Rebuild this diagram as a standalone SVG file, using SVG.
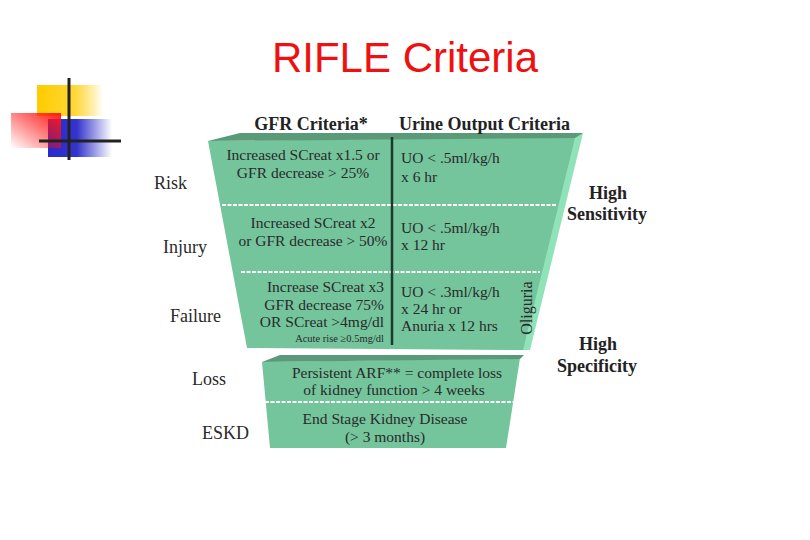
<svg xmlns="http://www.w3.org/2000/svg" width="810" height="540" viewBox="0 0 810 540">
<defs>
<linearGradient id="gy" x1="0" y1="0" x2="1" y2="0"><stop offset="0" stop-color="#ffcc00"/><stop offset="0.55" stop-color="#ffd633"/><stop offset="1" stop-color="#ffcc00" stop-opacity="0"/></linearGradient>
<linearGradient id="gr" x1="1" y1="0" x2="0" y2="1"><stop offset="0" stop-color="#ff1a1a"/><stop offset="1" stop-color="#ff0000" stop-opacity="0"/></linearGradient>
<linearGradient id="gb" x1="0" y1="0" x2="1" y2="0"><stop offset="0" stop-color="#2a2acc"/><stop offset="0.45" stop-color="#3333cc"/><stop offset="1" stop-color="#3333cc" stop-opacity="0"/></linearGradient>
</defs>
<style>
.t{font-family:"Liberation Serif","Times New Roman",serif;fill:#2a2a2a;font-size:15.5px}
.c{text-anchor:middle}
.r{text-anchor:end}
.h{font-family:"Liberation Serif","Times New Roman",serif;fill:#222;font-size:18px;font-weight:bold}
.lab{font-family:"Liberation Serif","Times New Roman",serif;fill:#2a2a2a;font-size:18px}
.dot{stroke:#ffffff;stroke-width:2;stroke-dasharray:4 1.5;fill:none}
.fun{fill:#74c49c}
.top{fill:#5a9a78}
.bev{fill:#90e2b8}
</style>
<text x="405" y="72" text-anchor="middle" font-family="Liberation Sans, Arial, sans-serif" font-size="42" fill="#ee1111">RIFLE Criteria</text>
<g id="logo">
<rect x="37" y="85" width="66" height="31" fill="url(#gy)"/>
<rect x="48" y="119" width="64" height="38" fill="url(#gb)"/>
<rect x="11" y="113" width="50" height="35" fill="url(#gr)"/>
<line x1="69" y1="78" x2="69" y2="160" stroke="#222" stroke-width="3"/>
<line x1="39" y1="141" x2="121" y2="141" stroke="#222" stroke-width="3"/>
</g>
<g id="upper-funnel">
<polygon class="fun" points="208,141 580,137 525,350 247,348"/>
<polygon class="top" points="208,141 240,133 583,133 578,138"/>
<polygon class="bev" points="575,138 583,133 530,350 523,350"/>
</g>
<g id="lower-funnel">
<polygon class="fun" points="262,362 520,358 506,448 270,448"/>
<polygon class="top" points="262,362 280,355 524,355 520,359"/>
</g>
<g id="connectors">
<line class="dot" x1="222" y1="205" x2="556" y2="205"/>
<line class="dot" x1="241" y1="272" x2="540" y2="272"/>
<line class="dot" x1="265" y1="402" x2="513" y2="402"/>
<line x1="392" y1="137" x2="392" y2="345" stroke="#1f3a2c" stroke-width="2.5"/>
</g>
<g id="headers">
<text class="h c" x="311" y="130">GFR Criteria*</text>
<text class="h" x="399" y="130">Urine Output Criteria</text>
</g>
<g id="risk">
<text class="lab" x="154" y="189">Risk</text>
<text class="t c" x="303" y="160">Increased SCreat x1.5 or</text>
<text class="t c" x="303" y="178">GFR decrease &gt; 25%</text>
<text class="t" x="401" y="163">UO &lt; .5ml/kg/h</text>
<text class="t" x="401" y="182">x 6 hr</text>
</g>
<g id="injury">
<text class="lab" x="163" y="253">Injury</text>
<text class="t c" x="313" y="228">Increased SCreat x2</text>
<text class="t c" x="313" y="246">or GFR decrease &gt; 50%</text>
<text class="t" x="401" y="233">UO &lt; .5ml/kg/h</text>
<text class="t" x="401" y="250">x 12 hr</text>
</g>
<g id="failure">
<text class="lab" x="170" y="322">Failure</text>
<text class="t r" x="384" y="292">Increase SCreat x3</text>
<text class="t r" x="384" y="310">GFR decrease 75%</text>
<text class="t r" x="384" y="327">OR SCreat &gt;4mg/dl</text>
<text class="t r" x="384" y="342" style="font-size:10.5px">Acute rise ≥0.5mg/dl</text>
<text class="t" x="401" y="297">UO &lt; .3ml/kg/h</text>
<text class="t" x="401" y="314">x 24 hr or</text>
<text class="t" x="401" y="331">Anuria x 12 hrs</text>
<text class="t c" transform="translate(532,308) rotate(-90)" style="font-size:16px">Oliguria</text>
</g>
<g id="loss">
<text class="lab" x="192" y="385">Loss</text>
<text class="t c" x="397" y="378">Persistent ARF** = complete loss</text>
<text class="t c" x="394" y="395">of kidney function &gt; 4 weeks</text>
</g>
<g id="eskd">
<text class="lab" x="202" y="439">ESKD</text>
<text class="t c" x="385" y="424">End Stage Kidney Disease</text>
<text class="t c" x="385" y="442">(&gt; 3 months)</text>
</g>
<g id="sensitivity">
<text class="h c" x="608" y="199">High</text>
<text class="h c" x="607" y="220">Sensitivity</text>
</g>
<g id="specificity">
<text class="h c" x="598" y="350">High</text>
<text class="h c" x="597" y="372">Specificity</text>
</g>
</svg>
